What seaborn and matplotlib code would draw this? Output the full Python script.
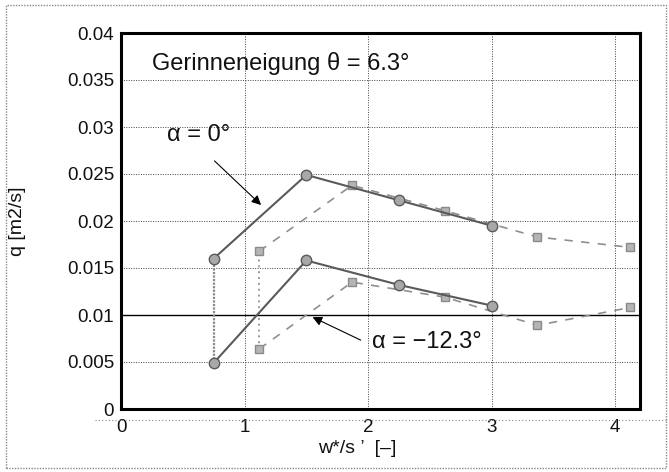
import matplotlib
matplotlib.use("Agg")
import matplotlib.pyplot as plt
import seaborn as sns
import pandas as pd
from matplotlib.lines import Line2D
from matplotlib.patches import Rectangle

# ---- data ----
x_solid = [0.75, 1.5, 2.25, 3.0]
q_solid_a0 = [0.0160, 0.0249, 0.0222, 0.0195]
q_solid_a12 = [0.0049, 0.0158, 0.0132, 0.0110]
x_dash = [1.12, 1.87, 2.62, 3.37, 4.12]
q_dash_a0 = [0.0168, 0.0238, 0.0211, 0.0183, 0.0172]
q_dash_a12 = [0.0064, 0.0135, 0.0119, 0.0089, 0.0108]
y_ticks = [0, 0.005, 0.01, 0.015, 0.02, 0.025, 0.03, 0.035, 0.04]
y_tick_labels = ["0", "0.005", "0.01", "0.015", "0.02", "0.025", "0.03", "0.035", "0.04"]
x_ticks = [0, 1, 2, 3, 4]
x_tick_labels = ["0", "1", "2", "3", "4"]

sns.set_theme(style="white")
plt.rcParams['font.family'] = ['Liberation Sans', 'DejaVu Sans']

fig = plt.figure(figsize=(6.69, 4.72), dpi=100)
ax = fig.add_axes([121/669, 1-409/472, (640-121)/669, (409-33)/472])

# vertical connectors
sns.lineplot(x=[x_solid[0], x_solid[0]], y=[q_solid_a12[0], q_solid_a0[0]], ax=ax,
             color="#8a8a8a", lw=1.6, linestyle=(0, (1, 0.6)), estimator=None, sort=False)
sns.lineplot(x=[x_dash[0], x_dash[0]], y=[q_dash_a12[0], q_dash_a0[0]], ax=ax,
             color="#9a9a9a", lw=1.4, linestyle=(0, (1, 2)), estimator=None, sort=False)

# dashed series
for q in (q_dash_a0, q_dash_a12):
    sns.lineplot(x=x_dash, y=q, ax=ax, color="#8f8f8f", lw=1.2, linestyle=(0, (5, 5)),
                 marker="s", markersize=6, markerfacecolor="#b5b5b5",
                 markeredgecolor="#8a8a8a", markeredgewidth=1.0,
                 estimator=None, sort=False)
# solid series
for q in (q_solid_a0, q_solid_a12):
    sns.lineplot(x=x_solid, y=q, ax=ax, color="#5a5a5a", lw=1.5,
                 marker="o", markersize=7.5, markerfacecolor="#a8a8a8",
                 markeredgecolor="#5a5a5a", markeredgewidth=1.0,
                 estimator=None, sort=False)

ax.axhline(0.01, color="black", lw=1.0, zorder=1)

ax.set_xlim(0, 4.2)
ax.set_ylim(0, 0.04)
ax.set_xticks(x_ticks)
ax.set_xticklabels(x_tick_labels)
ax.set_yticks(y_ticks)
ax.set_yticklabels(y_tick_labels)
ax.grid(True, color="#444444", linestyle=(0, (1, 1.5)), lw=0.7)
ax.set_axisbelow(True)
for s in ax.spines.values():
    s.set_color("black")
    s.set_linewidth(2.2)
ax.tick_params(axis="both", which="major", labelsize=13.5, colors="black",
               direction="in", length=4, width=0.8, labelcolor="#111111")
ax.tick_params(axis="x", pad=7)
ax.tick_params(axis="y", pad=5)

ax.set_xlabel("w*/s \u2019  [\u2013]", fontsize=14, color="#111111")
ax.xaxis.set_label_coords(0.455, -0.082)
ax.set_ylabel("q [m2/s]", fontsize=14, color="#111111")
ax.yaxis.set_label_coords(-0.183, 0.5)

ax.text(0.25, 0.0368, "Gerinneneigung \u03b8 = 6.3\u00b0", fontsize=17, color="#111111",
        va="center", ha="left")
ax.text(0.37, 0.0291, "\u03b1 = 0\u00b0", fontsize=17, color="#111111", va="center", ha="left")
ax.annotate("", xy=(1.15, 0.0215), xytext=(0.74, 0.0266),
            arrowprops=dict(arrowstyle="-|>", color="black", lw=0.8, mutation_scale=14))
ax.text(2.03, 0.0071, "\u03b1 = \u221212.3\u00b0", fontsize=17, color="#111111", va="center",
        ha="left")
ax.annotate("", xy=(1.53, 0.0099), xytext=(1.96, 0.0072),
            arrowprops=dict(arrowstyle="-|>", color="black", lw=0.8, mutation_scale=14))

# scan frame
fig.patches.append(Rectangle((6/669, 4/472), 660/669, 463/472, transform=fig.transFigure,
                             fill=False, edgecolor="#888888", lw=1.0,
                             linestyle=(0, (1, 1))))
fig.lines.append(Line2D([95/669, 1.0], [1-420/472, 1-420/472], transform=fig.transFigure,
                        color="#888888", lw=0.8, linestyle=(0, (1, 2))))

fig.savefig("out.png", dpi=100)
